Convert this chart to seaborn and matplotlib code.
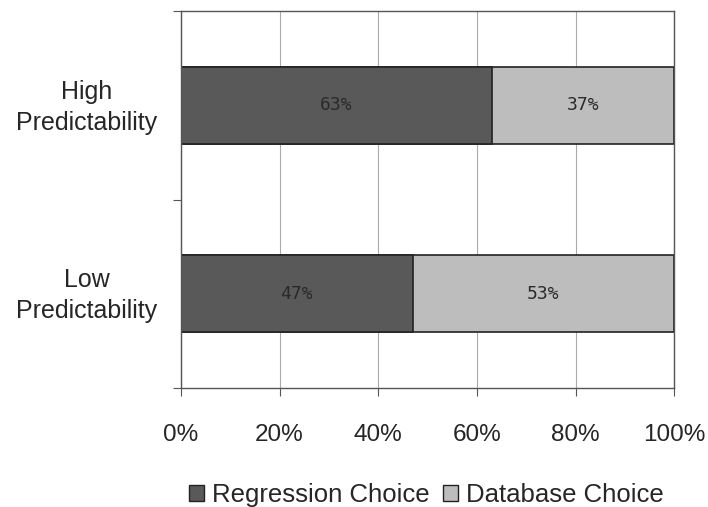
import pandas as pd
import matplotlib.pyplot as plt
import seaborn as sns
from matplotlib.patches import Patch

# Dữ liệu
conditions = ['High\nPredictability', 'Low\nPredictability']
regression = [63, 47]
database = [37, 53]
ticks = [0, 20, 40, 60, 80, 100]

df = pd.DataFrame({'Condition': conditions,
                   'Regression': regression,
                   'Total': [r + d for r, d in zip(regression, database)]})

sns.set_style("white")
plt.rcParams['font.family'] = ['Liberation Sans', 'DejaVu Sans']

fig = plt.figure(figsize=(7.08, 5.07), dpi=100)
ax = fig.add_axes([0.2556, 0.2347, 0.6966, 0.7436])

# Thanh chồng: vẽ tổng (Database) rồi Regression lên trên
sns.barplot(data=df, y='Condition', x='Total', color='#bdbdbd', saturation=1,
            width=0.41, edgecolor='#222222', linewidth=1.2, ax=ax)
sns.barplot(data=df, y='Condition', x='Regression', color='#595959', saturation=1,
            width=0.41, edgecolor='#222222', linewidth=1.2, ax=ax)

for i, (r, d) in enumerate(zip(regression, database)):
    ax.text(r / 2, i, f'{r}%', ha='center', va='center',
            family=['DejaVu Sans Mono'], fontsize=13, color='#2a2a2a')
    ax.text(r + d / 2, i, f'{d}%', ha='center', va='center',
            family=['DejaVu Sans Mono'], fontsize=13, color='#2a2a2a')

ax.set_xlim(0, 100)
ax.set_ylim(1.5, -0.5)
ax.set_xticks(ticks)
ax.set_xticklabels([f'{t}%' for t in ticks], fontsize=17.5)
ax.set_yticks([-0.5, 0.5, 1.5], minor=False)
ax.set_yticklabels([])
ax.set_yticks([-0.02, 0.98], minor=True)
ax.set_yticklabels(conditions, minor=True, fontsize=18, ha='center', linespacing=1.35)
ax.tick_params(axis='y', which='minor', length=0, pad=68)
ax.tick_params(axis='y', which='major', length=6, direction='out', left=True, color='#555555')
ax.tick_params(axis='x', length=6, direction='out', bottom=True, pad=20, color='#555555')
ax.xaxis.grid(True, color='#aaaaaa', linewidth=0.8)
ax.set_axisbelow(True)
ax.set_xlabel('')
ax.set_ylabel('')
for s in ax.spines.values():
    s.set_color('#555555')
    s.set_linewidth(1)

handles = [Patch(facecolor='#595959', edgecolor='#222222', label='Regression Choice'),
           Patch(facecolor='#bdbdbd', edgecolor='#222222', label='Database Choice')]
fig.legend(handles=handles, loc='center', bbox_to_anchor=(0.602, 0.024), ncol=2,
           frameon=False, fontsize=18.5, handlelength=0.6, handleheight=0.6,
           handletextpad=0.3, columnspacing=0.5)

plt.savefig('out.png', dpi=100)
plt.close()
